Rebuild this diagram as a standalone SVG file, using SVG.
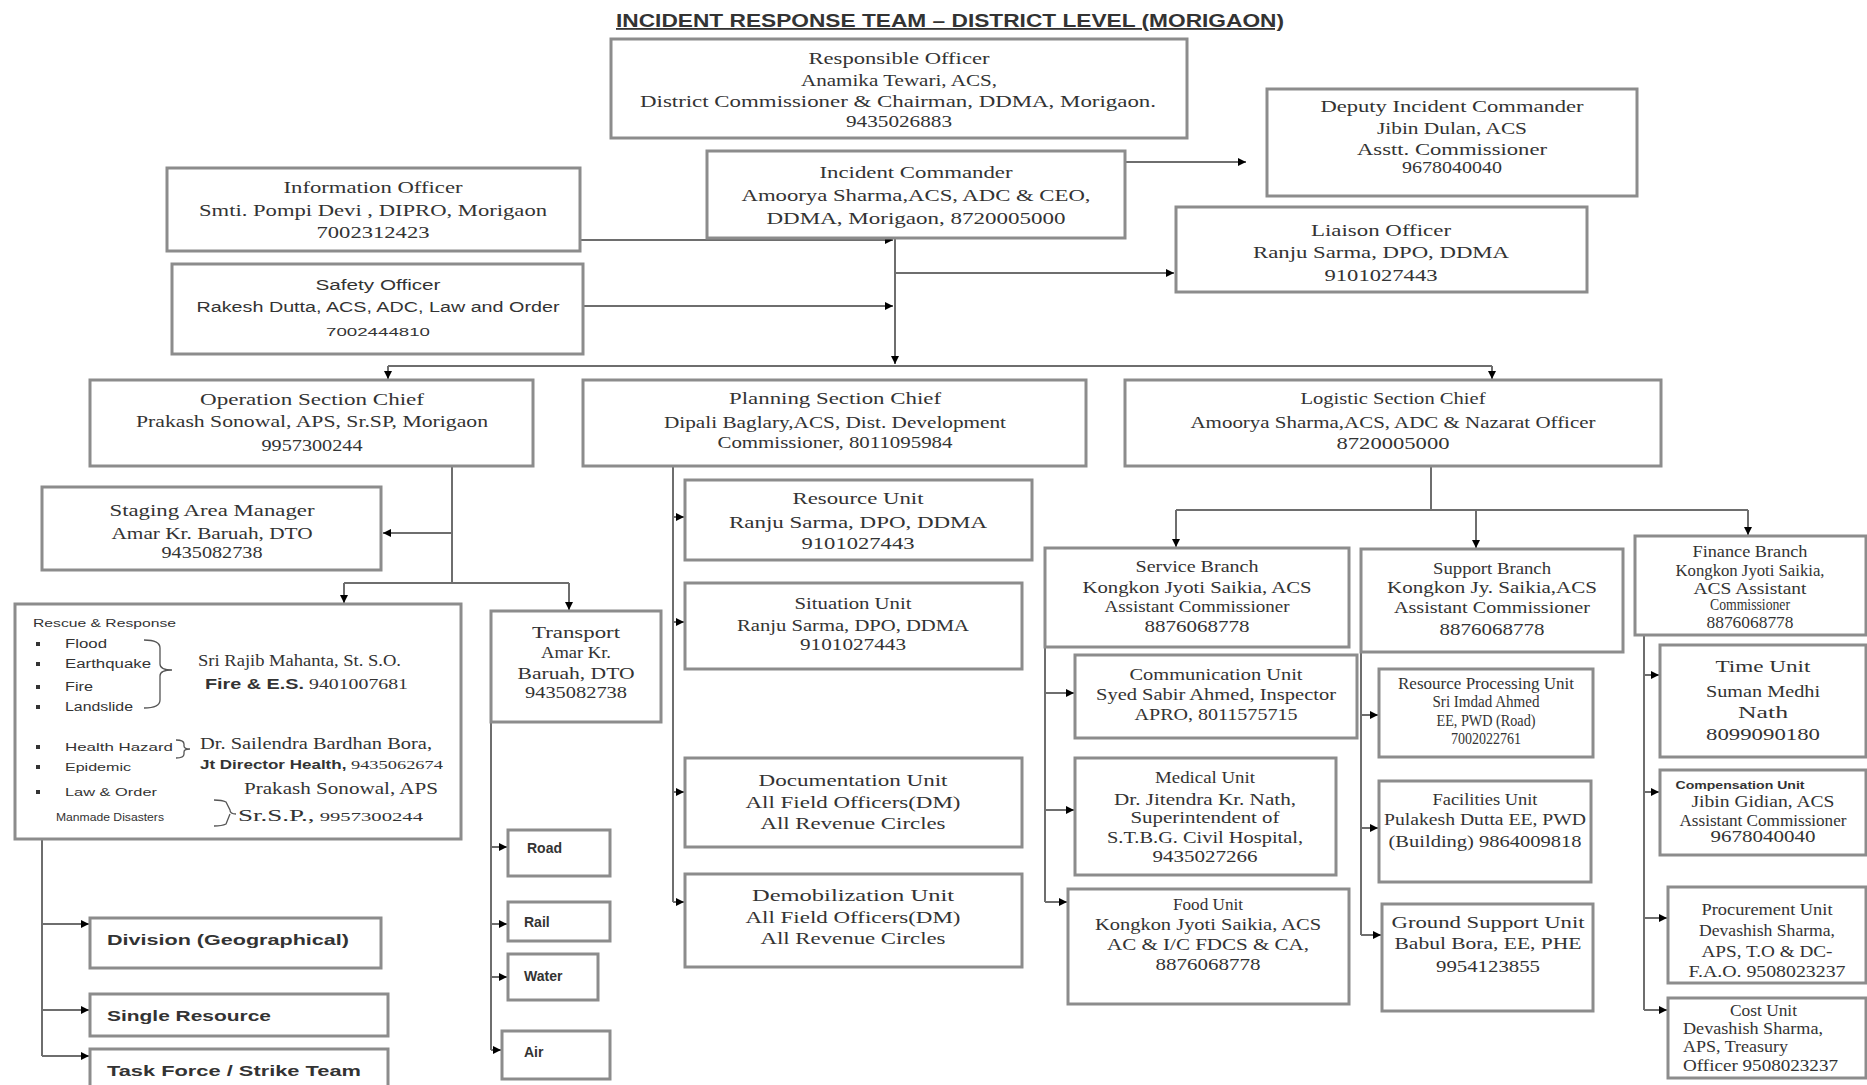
<svg xmlns="http://www.w3.org/2000/svg" width="1867" height="1085" viewBox="0 0 1867 1085">
<defs>
<style>
.box{fill:#fff;stroke:#8c8c8c;stroke-width:3}
.t{font-family:"Liberation Serif","Times New Roman",serif;fill:#333;text-anchor:middle;font-size:16px}
.l{text-anchor:start}
.f{font-family:"Liberation Serif","Times New Roman",serif;fill:#333}
.s{font-family:"Liberation Sans",Arial,sans-serif;fill:#333}
.b{font-family:"Liberation Sans",Arial,sans-serif;fill:#333;font-weight:bold}
.c{fill:none;stroke:#6e6e6e;stroke-width:2}
.a{fill:none;stroke:#6e6e6e;stroke-width:2;marker-end:url(#ah)}
.br{fill:none;stroke:#555;stroke-width:1.3}
</style>
<marker id="ah" viewBox="0 0 8 8" refX="8" refY="4" markerWidth="8" markerHeight="8" markerUnits="userSpaceOnUse" orient="auto"><path d="M0,0L8,4L0,8z" fill="#000"/></marker>
</defs>
<rect width="1867" height="1085" fill="#fff"/>
<text class="b" x="950" y="27" font-size="18" text-anchor="middle" text-decoration="underline" textLength="668" lengthAdjust="spacingAndGlyphs">INCIDENT RESPONSE TEAM – DISTRICT LEVEL (MORIGAON)</text>

<g id="connectors">
<path class="a" d="M1125,162H1246"/>
<path class="a" d="M580,240H893"/>
<path class="a" d="M583,306H893"/>
<path class="a" d="M895,238V364"/>
<path class="a" d="M895,273H1174"/>
<path class="c" d="M388,366H1492"/>
<path class="a" d="M388,366V379"/>
<path class="a" d="M1492,366V379"/>
<path class="c" d="M452,466V583"/>
<path class="a" d="M452,533H383"/>
<path class="c" d="M344,583H569"/>
<path class="a" d="M344,583V603"/>
<path class="a" d="M569,583V610"/>
<path class="c" d="M42,839V1056"/>
<path class="a" d="M42,924H89"/>
<path class="a" d="M42,1010H89"/>
<path class="a" d="M42,1056H89"/>
<path class="c" d="M491,722V1050"/>
<path class="a" d="M491,847H507"/>
<path class="a" d="M491,924H507"/>
<path class="a" d="M491,977H507"/>
<path class="a" d="M491,1050H501"/>
<path class="c" d="M673,466V902"/>
<path class="a" d="M673,517H684"/>
<path class="a" d="M673,622H684"/>
<path class="a" d="M673,792H684"/>
<path class="a" d="M673,902H684"/>
<path class="c" d="M1431,466V510"/>
<path class="c" d="M1176,510H1748"/>
<path class="a" d="M1176,510V547"/>
<path class="a" d="M1476,510V548"/>
<path class="a" d="M1748,510V535"/>
<path class="c" d="M1045,647V902"/>
<path class="a" d="M1045,693H1074"/>
<path class="a" d="M1045,810H1074"/>
<path class="a" d="M1045,902H1067"/>
<path class="c" d="M1361,652V935"/>
<path class="a" d="M1361,715H1378"/>
<path class="a" d="M1361,828H1378"/>
<path class="a" d="M1361,935H1381"/>
<path class="c" d="M1644,635V1010"/>
<path class="a" d="M1644,675H1659"/>
<path class="a" d="M1644,792H1659"/>
<path class="a" d="M1644,918H1667"/>
<path class="a" d="M1644,1010H1667"/>
</g>

<g id="responsible-officer">
<rect class="box" x="611" y="39" width="576" height="99"/>
<text class="t" x="899" y="64" font-size="17" textLength="181" lengthAdjust="spacingAndGlyphs">Responsible Officer</text>
<text class="t" x="899" y="86" font-size="17" textLength="196" lengthAdjust="spacingAndGlyphs">Anamika Tewari, ACS,</text>
<text class="t" x="898" y="107" font-size="17" textLength="516" lengthAdjust="spacingAndGlyphs">District Commissioner &amp; Chairman, DDMA, Morigaon.</text>
<text class="t" x="899" y="127" font-size="12" textLength="106" lengthAdjust="spacingAndGlyphs">9435026883</text>
</g>

<g id="incident-commander">
<rect class="box" x="707" y="151" width="418" height="87"/>
<text class="t" x="916" y="178" font-size="18" textLength="193" lengthAdjust="spacingAndGlyphs">Incident Commander</text>
<text class="t" x="916" y="201" font-size="18" textLength="349" lengthAdjust="spacingAndGlyphs">Amoorya Sharma,ACS, ADC &amp; CEO,</text>
<text class="t" x="916" y="224" font-size="18" textLength="299" lengthAdjust="spacingAndGlyphs">DDMA, Morigaon, 8720005000</text>
</g>

<g id="deputy-incident-commander">
<rect class="box" x="1267" y="89" width="370" height="107"/>
<text class="t" x="1452" y="112" font-size="16" textLength="263" lengthAdjust="spacingAndGlyphs">Deputy Incident Commander</text>
<text class="t" x="1452" y="134" font-size="14" textLength="150" lengthAdjust="spacingAndGlyphs">Jibin Dulan, ACS</text>
<text class="t" x="1452" y="155" font-size="16" textLength="190" lengthAdjust="spacingAndGlyphs">Asstt. Commissioner</text>
<text class="t" x="1452" y="173" font-size="12" textLength="100" lengthAdjust="spacingAndGlyphs">9678040040</text>
</g>

<g id="liaison-officer">
<rect class="box" x="1176" y="207" width="411" height="85"/>
<text class="t" x="1381" y="236" font-size="17" textLength="140" lengthAdjust="spacingAndGlyphs">Liaison Officer</text>
<text class="t" x="1381" y="258" font-size="17" textLength="256" lengthAdjust="spacingAndGlyphs">Ranju Sarma, DPO, DDMA</text>
<text class="t" x="1381" y="281" font-size="17" textLength="113" lengthAdjust="spacingAndGlyphs">9101027443</text>
</g>

<g id="information-officer">
<rect class="box" x="167" y="168" width="413" height="83"/>
<text class="t" x="373" y="193" font-size="17" textLength="179" lengthAdjust="spacingAndGlyphs">Information Officer</text>
<text class="t" x="373" y="216" font-size="17" textLength="348" lengthAdjust="spacingAndGlyphs">Smti. Pompi Devi , DIPRO, Morigaon</text>
<text class="t" x="373" y="238" font-size="17" textLength="113" lengthAdjust="spacingAndGlyphs">7002312423</text>
</g>

<g id="safety-officer">
<rect class="box" x="172" y="264" width="411" height="90"/>
<text class="s" x="378" y="290" font-size="14" text-anchor="middle" textLength="125" lengthAdjust="spacingAndGlyphs">Safety Officer</text>
<text class="s" x="378" y="312" font-size="14" text-anchor="middle" textLength="363" lengthAdjust="spacingAndGlyphs">Rakesh Dutta, ACS,  ADC, Law and Order</text>
<text class="s" x="378" y="336" font-size="11" text-anchor="middle" textLength="104" lengthAdjust="spacingAndGlyphs">7002444810</text>
</g>

<g id="operation-section-chief">
<rect class="box" x="90" y="380" width="443" height="86"/>
<text class="t" x="312" y="405" font-size="17" textLength="224" lengthAdjust="spacingAndGlyphs">Operation Section Chief</text>
<text class="t" x="312" y="427" font-size="15" textLength="352" lengthAdjust="spacingAndGlyphs">Prakash Sonowal, APS, Sr.SP, Morigaon</text>
<text class="t" x="312" y="451" font-size="12" textLength="101" lengthAdjust="spacingAndGlyphs">9957300244</text>
</g>

<g id="planning-section-chief">
<rect class="box" x="583" y="380" width="503" height="86"/>
<text class="t" x="835" y="404" font-size="17" textLength="212" lengthAdjust="spacingAndGlyphs">Planning Section Chief</text>
<text class="t" x="835" y="428" font-size="15" textLength="342" lengthAdjust="spacingAndGlyphs">Dipali Baglary,ACS,  Dist. Development</text>
<text class="t" x="835" y="448" font-size="15" textLength="235" lengthAdjust="spacingAndGlyphs">Commissioner, 8011095984</text>
</g>

<g id="logistic-section-chief">
<rect class="box" x="1125" y="380" width="536" height="86"/>
<text class="t" x="1393" y="404" font-size="16" textLength="185" lengthAdjust="spacingAndGlyphs">Logistic Section Chief</text>
<text class="t" x="1393" y="428" font-size="16" textLength="405" lengthAdjust="spacingAndGlyphs">Amoorya Sharma,ACS, ADC &amp; Nazarat Officer</text>
<text class="t" x="1393" y="449" font-size="16" textLength="113" lengthAdjust="spacingAndGlyphs">8720005000</text>
</g>

<g id="staging-area-manager">
<rect class="box" x="42" y="487" width="339" height="83"/>
<text class="t" x="212" y="516" font-size="17" textLength="205" lengthAdjust="spacingAndGlyphs">Staging Area Manager</text>
<text class="t" x="212" y="539" font-size="17" textLength="201" lengthAdjust="spacingAndGlyphs">Amar Kr. Baruah, DTO</text>
<text class="t" x="212" y="558" font-size="13" textLength="101" lengthAdjust="spacingAndGlyphs">9435082738</text>
</g>

<g id="rescue-response">
<rect class="box" x="15" y="604" width="446" height="235"/>
<text class="s" x="33" y="627" font-size="11" textLength="143" lengthAdjust="spacingAndGlyphs">Rescue &amp; Response</text>
<rect x="36" y="642" width="4" height="4" fill="#333"/>
<rect x="36" y="662" width="4" height="4" fill="#333"/>
<rect x="36" y="685" width="4" height="4" fill="#333"/>
<rect x="36" y="705" width="4" height="4" fill="#333"/>
<rect x="36" y="745" width="4" height="4" fill="#333"/>
<rect x="36" y="765" width="4" height="4" fill="#333"/>
<rect x="36" y="790" width="4" height="4" fill="#333"/>
<text class="s" x="65" y="648" font-size="12" textLength="42" lengthAdjust="spacingAndGlyphs">Flood</text>
<text class="s" x="65" y="668" font-size="12" textLength="86" lengthAdjust="spacingAndGlyphs">Earthquake</text>
<text class="s" x="65" y="691" font-size="12" textLength="28" lengthAdjust="spacingAndGlyphs">Fire</text>
<text class="s" x="65" y="711" font-size="12" textLength="68" lengthAdjust="spacingAndGlyphs">Landslide</text>
<text class="s" x="65" y="751" font-size="11" textLength="108" lengthAdjust="spacingAndGlyphs">Health Hazard</text>
<text class="s" x="65" y="771" font-size="11" textLength="66" lengthAdjust="spacingAndGlyphs">Epidemic</text>
<text class="s" x="65" y="796" font-size="11" textLength="92" lengthAdjust="spacingAndGlyphs">Law &amp; Order</text>
<text class="s" x="56" y="821" font-size="11" textLength="108" lengthAdjust="spacingAndGlyphs">Manmade Disasters</text>
<path class="br" d="M144,640Q160,640 160,648V664Q160,670 172,670Q160,670 160,676V700Q160,708 144,708"/>
<path class="br" d="M176,740Q184,740 184,744V746Q184,749 190,749Q184,749 184,752V754Q184,758 176,758"/>
<path class="br" d="M214,800Q222,800 226,802L230,810Q230,814 236,814M230,814L226,824Q222,826 214,826"/>
<text class="t l" x="198" y="666" font-size="14" textLength="203" lengthAdjust="spacingAndGlyphs">Sri Rajib Mahanta, St. S.O.</text>
<text x="205" y="689" textLength="203" lengthAdjust="spacingAndGlyphs"><tspan class="b" font-size="14">Fire &amp; E.S.</tspan><tspan class="f" font-size="14"> 9401007681</tspan></text>
<text class="t l" x="200" y="749" font-size="14" textLength="232" lengthAdjust="spacingAndGlyphs">Dr. Sailendra Bardhan Bora,</text>
<text x="200" y="769" textLength="243" lengthAdjust="spacingAndGlyphs"><tspan class="b" font-size="12">Jt Director Health,</tspan><tspan class="f" font-size="13"> 9435062674</tspan></text>
<text class="t l" x="244" y="794" font-size="15" textLength="194" lengthAdjust="spacingAndGlyphs">Prakash Sonowal, APS</text>
<text x="238" y="821" textLength="185" lengthAdjust="spacingAndGlyphs"><tspan class="f" font-size="17">Sr.S.P.,</tspan><tspan class="f" font-size="13"> 9957300244</tspan></text>
</g>

<g id="transport">
<rect class="box" x="491" y="611" width="170" height="111"/>
<text class="t" x="576" y="638" font-size="17" textLength="88" lengthAdjust="spacingAndGlyphs">Transport</text>
<text class="t" x="576" y="658" font-size="17" textLength="70" lengthAdjust="spacingAndGlyphs">Amar Kr.</text>
<text class="t" x="576" y="679" font-size="17" textLength="117" lengthAdjust="spacingAndGlyphs">Baruah, DTO</text>
<text class="t" x="576" y="698" font-size="13" textLength="102" lengthAdjust="spacingAndGlyphs">9435082738</text>
</g>

<g id="road"><rect class="box" x="508" y="830" width="102" height="46"/><text class="b" x="527" y="853" font-size="14">Road</text></g>
<g id="rail"><rect class="box" x="508" y="902" width="102" height="39"/><text class="b" x="524" y="927" font-size="14">Rail</text></g>
<g id="water"><rect class="box" x="508" y="954" width="90" height="46"/><text class="b" x="524" y="981" font-size="14">Water</text></g>
<g id="air"><rect class="box" x="502" y="1031" width="108" height="48"/><text class="b" x="524" y="1057" font-size="14">Air</text></g>

<g id="division"><rect class="box" x="90" y="918" width="291" height="50"/><text class="b" x="107" y="945" font-size="15" textLength="242" lengthAdjust="spacingAndGlyphs">Division (Geographical)</text></g>
<g id="single-resource"><rect class="box" x="90" y="994" width="298" height="42"/><text class="b" x="107" y="1021" font-size="15" textLength="164" lengthAdjust="spacingAndGlyphs">Single Resource</text></g>
<g id="task-force"><rect class="box" x="90" y="1049" width="298" height="40"/><text class="b" x="107" y="1076" font-size="15" textLength="254" lengthAdjust="spacingAndGlyphs">Task Force / Strike Team</text></g>

<g id="resource-unit">
<rect class="box" x="685" y="480" width="347" height="80"/>
<text class="t" x="858" y="504" font-size="17" textLength="131" lengthAdjust="spacingAndGlyphs">Resource Unit</text>
<text class="t" x="858" y="528" font-size="17" textLength="258" lengthAdjust="spacingAndGlyphs">Ranju Sarma, DPO, DDMA</text>
<text class="t" x="858" y="549" font-size="16" textLength="113" lengthAdjust="spacingAndGlyphs">9101027443</text>
</g>

<g id="situation-unit">
<rect class="box" x="685" y="583" width="337" height="86"/>
<text class="t" x="853" y="609" font-size="16" textLength="117" lengthAdjust="spacingAndGlyphs">Situation Unit</text>
<text class="t" x="853" y="631" font-size="15" textLength="232" lengthAdjust="spacingAndGlyphs">Ranju Sarma, DPO, DDMA</text>
<text class="t" x="853" y="650" font-size="15" textLength="106" lengthAdjust="spacingAndGlyphs">9101027443</text>
</g>

<g id="documentation-unit">
<rect class="box" x="685" y="758" width="337" height="89"/>
<text class="t" x="853" y="786" font-size="18" textLength="189" lengthAdjust="spacingAndGlyphs">Documentation Unit</text>
<text class="t" x="853" y="808" font-size="18" textLength="215" lengthAdjust="spacingAndGlyphs">All Field Officers(DM)</text>
<text class="t" x="853" y="829" font-size="18" textLength="185" lengthAdjust="spacingAndGlyphs">All Revenue Circles</text>
</g>

<g id="demobilization-unit">
<rect class="box" x="685" y="874" width="337" height="93"/>
<text class="t" x="853" y="901" font-size="18" textLength="202" lengthAdjust="spacingAndGlyphs">Demobilization Unit</text>
<text class="t" x="853" y="923" font-size="18" textLength="215" lengthAdjust="spacingAndGlyphs">All Field Officers(DM)</text>
<text class="t" x="853" y="944" font-size="18" textLength="185" lengthAdjust="spacingAndGlyphs">All Revenue Circles</text>
</g>

<g id="service-branch">
<rect class="box" x="1045" y="548" width="304" height="99"/>
<text class="t" x="1197" y="572" font-size="14" textLength="123" lengthAdjust="spacingAndGlyphs">Service Branch</text>
<text class="t" x="1197" y="593" font-size="14" textLength="229" lengthAdjust="spacingAndGlyphs">Kongkon Jyoti Saikia, ACS</text>
<text class="t" x="1197" y="612" font-size="14" textLength="185" lengthAdjust="spacingAndGlyphs">Assistant Commissioner</text>
<text class="t" x="1197" y="632" font-size="13" textLength="105" lengthAdjust="spacingAndGlyphs">8876068778</text>
</g>

<g id="support-branch">
<rect class="box" x="1361" y="549" width="262" height="103"/>
<text class="t" x="1492" y="574" font-size="14" textLength="118" lengthAdjust="spacingAndGlyphs">Support Branch</text>
<text class="t" x="1492" y="593" font-size="14" textLength="210" lengthAdjust="spacingAndGlyphs">Kongkon Jy. Saikia,ACS</text>
<text class="t" x="1492" y="613" font-size="14" textLength="196" lengthAdjust="spacingAndGlyphs">Assistant Commissioner</text>
<text class="t" x="1492" y="635" font-size="13" textLength="105" lengthAdjust="spacingAndGlyphs">8876068778</text>
</g>

<g id="finance-branch">
<rect class="box" x="1635" y="536" width="231" height="99"/>
<text class="t" x="1750" y="557" font-size="12" textLength="115" lengthAdjust="spacingAndGlyphs">Finance Branch</text>
<text class="t" x="1750" y="576" font-size="12" textLength="149" lengthAdjust="spacingAndGlyphs">Kongkon Jyoti Saikia,</text>
<text class="t" x="1750" y="594" font-size="12" textLength="113" lengthAdjust="spacingAndGlyphs">ACS Assistant</text>
<text class="t" x="1750" y="610" font-size="12" textLength="80" lengthAdjust="spacingAndGlyphs">Commissioner</text>
<text class="t" x="1750" y="628" font-size="11" textLength="87" lengthAdjust="spacingAndGlyphs">8876068778</text>
</g>

<g id="communication-unit">
<rect class="box" x="1075" y="655" width="282" height="83"/>
<text class="t" x="1216" y="680" font-size="15" textLength="173" lengthAdjust="spacingAndGlyphs">Communication Unit</text>
<text class="t" x="1216" y="700" font-size="15" textLength="240" lengthAdjust="spacingAndGlyphs">Syed Sabir Ahmed, Inspector</text>
<text class="t" x="1216" y="720" font-size="15" textLength="163" lengthAdjust="spacingAndGlyphs">APRO, 8011575715</text>
</g>

<g id="medical-unit">
<rect class="box" x="1075" y="758" width="261" height="117"/>
<text class="t" x="1205" y="783" font-size="15" textLength="100" lengthAdjust="spacingAndGlyphs">Medical Unit</text>
<text class="t" x="1205" y="805" font-size="15" textLength="182" lengthAdjust="spacingAndGlyphs">Dr. Jitendra Kr. Nath,</text>
<text class="t" x="1205" y="823" font-size="15" textLength="149" lengthAdjust="spacingAndGlyphs">Superintendent of</text>
<text class="t" x="1205" y="843" font-size="15" textLength="196" lengthAdjust="spacingAndGlyphs">S.T.B.G. Civil Hospital,</text>
<text class="t" x="1205" y="862" font-size="12" textLength="105" lengthAdjust="spacingAndGlyphs">9435027266</text>
</g>

<g id="food-unit">
<rect class="box" x="1068" y="889" width="281" height="115"/>
<text class="t" x="1208" y="910" font-size="14" textLength="70" lengthAdjust="spacingAndGlyphs">Food Unit</text>
<text class="t" x="1208" y="930" font-size="14" textLength="226" lengthAdjust="spacingAndGlyphs">Kongkon Jyoti Saikia, ACS</text>
<text class="t" x="1208" y="950" font-size="14" textLength="202" lengthAdjust="spacingAndGlyphs">AC &amp; I/C FDCS &amp; CA,</text>
<text class="t" x="1208" y="970" font-size="13" textLength="105" lengthAdjust="spacingAndGlyphs">8876068778</text>
</g>

<g id="resource-processing-unit">
<rect class="box" x="1379" y="669" width="214" height="88"/>
<text class="t" x="1486" y="689" font-size="12" textLength="176" lengthAdjust="spacingAndGlyphs">Resource Processing Unit</text>
<text class="t" x="1486" y="707" font-size="12" textLength="107" lengthAdjust="spacingAndGlyphs">Sri Imdad Ahmed</text>
<text class="t" x="1486" y="726" font-size="12" textLength="99" lengthAdjust="spacingAndGlyphs">EE, PWD (Road)</text>
<text class="t" x="1486" y="744" font-size="11" textLength="70" lengthAdjust="spacingAndGlyphs">7002022761</text>
</g>

<g id="facilities-unit">
<rect class="box" x="1379" y="781" width="212" height="101"/>
<text class="t" x="1485" y="805" font-size="16" textLength="105" lengthAdjust="spacingAndGlyphs">Facilities Unit</text>
<text class="t" x="1485" y="825" font-size="16" textLength="202" lengthAdjust="spacingAndGlyphs">Pulakesh Dutta EE, PWD</text>
<text class="t" x="1485" y="847" font-size="14" textLength="193" lengthAdjust="spacingAndGlyphs">(Building) 9864009818</text>
</g>

<g id="ground-support-unit">
<rect class="box" x="1382" y="904" width="211" height="107"/>
<text class="t" x="1488" y="928" font-size="17" textLength="193" lengthAdjust="spacingAndGlyphs">Ground Support Unit</text>
<text class="t" x="1488" y="949" font-size="17" textLength="187" lengthAdjust="spacingAndGlyphs">Babul Bora, EE, PHE</text>
<text class="t" x="1488" y="972" font-size="14" textLength="104" lengthAdjust="spacingAndGlyphs">9954123855</text>
</g>

<g id="time-unit">
<rect class="box" x="1660" y="645" width="206" height="112"/>
<text class="t" x="1763" y="672" font-size="18" textLength="95" lengthAdjust="spacingAndGlyphs">Time Unit</text>
<text class="t" x="1763" y="697" font-size="18" textLength="114" lengthAdjust="spacingAndGlyphs">Suman Medhi</text>
<text class="t" x="1763" y="718" font-size="18" textLength="50" lengthAdjust="spacingAndGlyphs">Nath</text>
<text class="t" x="1763" y="740" font-size="15" textLength="114" lengthAdjust="spacingAndGlyphs">8099090180</text>
</g>

<g id="compensation-unit">
<rect class="box" x="1660" y="770" width="206" height="85"/>
<text class="b" x="1740" y="789" font-size="11" text-anchor="middle" textLength="129" lengthAdjust="spacingAndGlyphs">Compensation Unit</text>
<text class="t" x="1763" y="807" font-size="12" textLength="143" lengthAdjust="spacingAndGlyphs">Jibin Gidian, ACS</text>
<text class="t" x="1763" y="826" font-size="12" textLength="167" lengthAdjust="spacingAndGlyphs">Assistant Commissioner</text>
<text class="t" x="1763" y="842" font-size="12" textLength="105" lengthAdjust="spacingAndGlyphs">9678040040</text>
</g>

<g id="procurement-unit">
<rect class="box" x="1668" y="887" width="198" height="96"/>
<text class="t" x="1767" y="915" font-size="16" textLength="131" lengthAdjust="spacingAndGlyphs">Procurement Unit</text>
<text class="t" x="1767" y="936" font-size="16" textLength="136" lengthAdjust="spacingAndGlyphs">Devashish Sharma,</text>
<text class="t" x="1767" y="957" font-size="16" textLength="131" lengthAdjust="spacingAndGlyphs">APS, T.O &amp; DC-</text>
<text class="t" x="1767" y="977" font-size="16" textLength="157" lengthAdjust="spacingAndGlyphs">F.A.O. 9508023237</text>
</g>

<g id="cost-unit">
<rect class="box" x="1668" y="998" width="198" height="80"/>
<text class="t l" x="1730" y="1016" font-size="13" textLength="67" lengthAdjust="spacingAndGlyphs">Cost Unit</text>
<text class="t l" x="1683" y="1034" font-size="13" textLength="140" lengthAdjust="spacingAndGlyphs">Devashish Sharma,</text>
<text class="t l" x="1683" y="1052" font-size="13" textLength="105" lengthAdjust="spacingAndGlyphs">APS, Treasury</text>
<text class="t l" x="1683" y="1071" font-size="13" textLength="155" lengthAdjust="spacingAndGlyphs">Officer 9508023237</text>
</g>
</svg>
